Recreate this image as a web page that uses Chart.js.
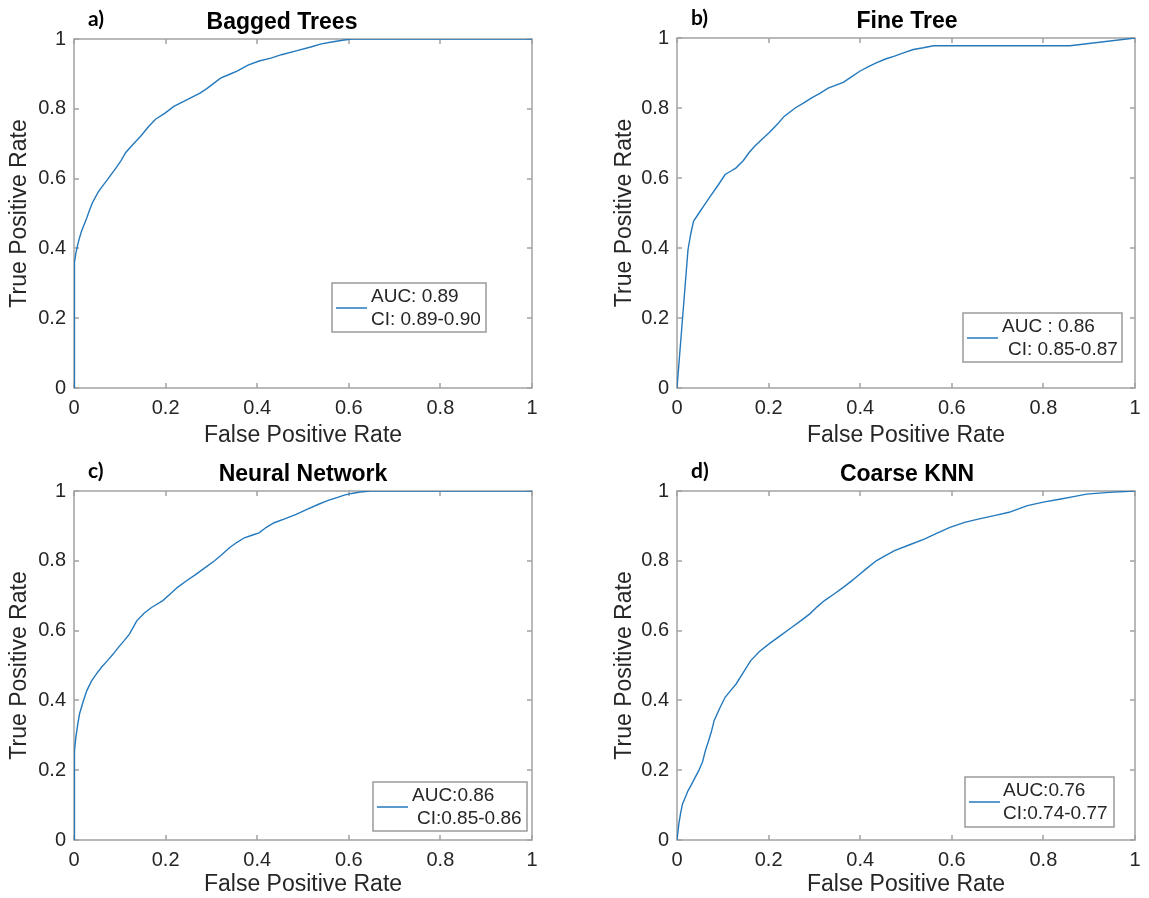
<!DOCTYPE html>
<html>
<head>
<meta charset="utf-8">
<script src="https://cdn.jsdelivr.net/npm/chart.js@4.4.1/dist/chart.umd.min.js"></script>
<style>
  html, body { margin: 0; padding: 0; background: #fff; }
  #wrap { position: relative; width: 1149px; height: 898px; }
  #wrap canvas { position: absolute; }
</style>
</head>
<body>
<div id="wrap">
  <canvas id="panelA"></canvas>
  <canvas id="panelB"></canvas>
  <canvas id="panelC"></canvas>
  <canvas id="panelD"></canvas>
</div>
<script>
// ROC curves, values
const tickValues = [0, 0.2, 0.4, 0.6, 0.8, 1];
const panelLetters = ['a)', 'b)', 'c)', 'd)'];
const panelTitles = ['Bagged Trees', 'Fine Tree', 'Neural Network', 'Coarse KNN'];
const aucLabels = ['AUC: 0.89', 'AUC : 0.86', 'AUC:0.86', 'AUC:0.76'];
const ciLabels = ['CI: 0.89-0.90', 'CI: 0.85-0.87', 'CI:0.85-0.86', 'CI:0.74-0.77'];

const baggedFpr = [0, 0, 0.002, 0.004, 0.008, 0.012, 0.016, 0.022, 0.028, 0.034, 0.04, 0.053, 0.063, 0.073, 0.083, 0.093, 0.103, 0.113, 0.128, 0.146, 0.162, 0.178, 0.198, 0.218, 0.245, 0.275, 0.29, 0.305, 0.32, 0.34, 0.356, 0.38, 0.404, 0.43, 0.453, 0.485, 0.517, 0.54, 0.566, 0.59, 0.606, 0.65, 1];
const baggedTpr = [0, 0.32, 0.36, 0.386, 0.41, 0.43, 0.448, 0.468, 0.488, 0.51, 0.53, 0.562, 0.58, 0.597, 0.615, 0.633, 0.652, 0.675, 0.697, 0.722, 0.748, 0.77, 0.787, 0.807, 0.825, 0.845, 0.858, 0.873, 0.888, 0.899, 0.908, 0.925, 0.937, 0.945, 0.955, 0.966, 0.977, 0.986, 0.992, 0.997, 1, 1, 1];

const fineFpr = [0, 0.024, 0.03, 0.036, 0.048, 0.06, 0.073, 0.09, 0.105, 0.118, 0.129, 0.145, 0.157, 0.169, 0.185, 0.201, 0.218, 0.234, 0.258, 0.275, 0.294, 0.312, 0.33, 0.363, 0.38, 0.399, 0.418, 0.435, 0.455, 0.475, 0.496, 0.516, 0.538, 0.56, 0.858, 1];
const fineTpr = [0, 0.395, 0.44, 0.476, 0.5, 0.523, 0.548, 0.58, 0.61, 0.62, 0.629, 0.65, 0.672, 0.69, 0.71, 0.729, 0.752, 0.776, 0.8, 0.813, 0.829, 0.842, 0.857, 0.873, 0.888, 0.905, 0.918, 0.929, 0.94, 0.948, 0.958, 0.967, 0.972, 0.978, 0.978, 1];

const nnFpr = [0, 0, 0.002, 0.004, 0.008, 0.012, 0.02, 0.028, 0.038, 0.049, 0.06, 0.073, 0.085, 0.097, 0.11, 0.121, 0.137, 0.153, 0.17, 0.194, 0.21, 0.226, 0.245, 0.267, 0.287, 0.307, 0.323, 0.34, 0.356, 0.372, 0.39, 0.404, 0.42, 0.437, 0.46, 0.485, 0.51, 0.534, 0.555, 0.574, 0.59, 0.606, 0.625, 0.647, 0.7, 1];
const nnTpr = [0, 0.2, 0.255, 0.294, 0.33, 0.361, 0.397, 0.428, 0.455, 0.476, 0.495, 0.514, 0.532, 0.552, 0.572, 0.59, 0.628, 0.65, 0.667, 0.686, 0.705, 0.724, 0.742, 0.762, 0.781, 0.8, 0.818, 0.838, 0.853, 0.866, 0.874, 0.88, 0.896, 0.909, 0.92, 0.933, 0.948, 0.962, 0.973, 0.981, 0.988, 0.993, 0.997, 1, 1, 1];

const knnFpr = [0, 0.004, 0.008, 0.012, 0.018, 0.024, 0.032, 0.04, 0.048, 0.056, 0.062, 0.068, 0.075, 0.081, 0.093, 0.105, 0.117, 0.129, 0.145, 0.161, 0.18, 0.201, 0.225, 0.25, 0.27, 0.29, 0.306, 0.322, 0.343, 0.363, 0.38, 0.395, 0.415, 0.435, 0.455, 0.475, 0.508, 0.54, 0.568, 0.596, 0.628, 0.66, 0.695, 0.725, 0.765, 0.8, 0.838, 0.866, 0.894, 0.943, 1];
const knnTpr = [0, 0.046, 0.078, 0.103, 0.122, 0.141, 0.16, 0.18, 0.2, 0.225, 0.256, 0.28, 0.31, 0.342, 0.377, 0.409, 0.428, 0.447, 0.48, 0.514, 0.54, 0.562, 0.585, 0.609, 0.628, 0.648, 0.668, 0.686, 0.705, 0.724, 0.741, 0.757, 0.779, 0.8, 0.815, 0.829, 0.846, 0.862, 0.879, 0.896, 0.91, 0.92, 0.93, 0.939, 0.958, 0.968, 0.977, 0.984, 0.991, 0.996, 1];

const curves = [[baggedFpr, baggedTpr], [fineFpr, fineTpr], [nnFpr, nnTpr], [knnFpr, knnTpr]];

// where each panel sits on the page (pixels)
const panelLayout = [
  { id: 'panelA', x: 0,   y: 0,   w: 574, h: 449, padLeft: 0,  axisW: 74, top: 39, right: 532, bottom: 388, titleShift: -21,
    legend: { rightGap: 46, bottomGap: 56, w: 154, h: 49, indent1: 39, indent2: 39 } },
  { id: 'panelB', x: 574, y: 0,   w: 575, h: 449, padLeft: 31, axisW: 72, top: 38, right: 561, bottom: 388, titleShift: 1,
    legend: { rightGap: 13, bottomGap: 26, w: 159, h: 49, indent1: 39, indent2: 45 } },
  { id: 'panelC', x: 0,   y: 449, w: 574, h: 449, padLeft: 0,  axisW: 74, top: 42, right: 532, bottom: 391, titleShift: 0,
    legend: { rightGap: 5, bottomGap: 9, w: 154, h: 49, indent1: 39, indent2: 44 } },
  { id: 'panelD', x: 574, y: 449, w: 575, h: 449, padLeft: 31, axisW: 72, top: 42, right: 561, bottom: 391, titleShift: 1,
    legend: { rightGap: 21, bottomGap: 13, w: 149, h: 50, indent1: 38, indent2: 38 } }
];

const lineColor = '#2479bd';
const axisColor = '#a3a3a3';
const textColor = '#262626';
const mainFont = "'Liberation Sans', Arial, Helvetica, sans-serif";

// box, inward ticks, titles and the legend, MATLAB-style
const rocDecor = {
  id: 'rocDecor',
  beforeDatasetsDraw(chart) {
    const { ctx, chartArea: a, scales } = chart;
    ctx.save();
    ctx.strokeStyle = axisColor;
    ctx.lineWidth = 1.5;
    ctx.strokeRect(a.left, a.top, a.right - a.left, a.bottom - a.top);
    ctx.beginPath();
    tickValues.forEach(v => {
      const px = Math.round(scales.x.getPixelForValue(v));
      const py = Math.round(scales.y.getPixelForValue(v));
      ctx.moveTo(px, a.bottom); ctx.lineTo(px, a.bottom - 5);
      ctx.moveTo(px, a.top); ctx.lineTo(px, a.top + 5);
      ctx.moveTo(a.left, py); ctx.lineTo(a.left + 5, py);
      ctx.moveTo(a.right, py); ctx.lineTo(a.right - 5, py);
    });
    ctx.stroke();
    ctx.restore();
  },
  afterDraw(chart, args, o) {
    const { ctx, chartArea: a } = chart;
    const L = o.legend;
    ctx.save();
    ctx.fillStyle = '#000';
    ctx.textBaseline = 'middle';
    ctx.font = "bold 21px Lato, 'Open Sans', sans-serif";
    ctx.textAlign = 'left';
    ctx.fillText(o.letter, a.left + 14, a.top - 20);
    ctx.font = 'bold 23px ' + mainFont;
    ctx.textAlign = 'center';
    ctx.fillText(o.title, (a.left + a.right) / 2 + o.titleShift, a.top - 16);

    // legend box
    const bx = a.right - L.rightGap - L.w;
    const by = a.bottom - L.bottomGap - L.h;
    ctx.fillStyle = '#fff';
    ctx.fillRect(bx, by, L.w, L.h);
    ctx.strokeStyle = '#9a9a9a';
    ctx.lineWidth = 1.5;
    ctx.strokeRect(bx, by, L.w, L.h);
    ctx.strokeStyle = lineColor;
    ctx.lineWidth = 1.5;
    ctx.beginPath();
    ctx.moveTo(bx + 4, by + 25);
    ctx.lineTo(bx + 35, by + 25);
    ctx.stroke();
    ctx.fillStyle = textColor;
    ctx.font = '19px ' + mainFont;
    ctx.textAlign = 'left';
    ctx.fillText(o.auc, bx + L.indent1, by + 14);
    ctx.fillText(o.ci, bx + L.indent2, by + 37);
    ctx.restore();
  }
};

function makeAxis(title, fitFn) {
  return {
    type: 'linear',
    min: 0,
    max: 1,
    grid: { display: false, drawTicks: false },
    border: { display: false },
    afterBuildTicks: s => { s.ticks = tickValues.map(v => ({ value: v })); },
    afterFit: fitFn,
    ticks: {
      color: textColor,
      font: { family: mainFont, size: 20 },
      padding: 8,
      maxRotation: 0,
      callback: v => String(v)
    },
    title: {
      display: true,
      text: title,
      color: textColor,
      font: { family: mainFont, size: 23, lineHeight: 1.2 },
      padding: { top: 6, bottom: 0 }
    }
  };
}

function createRocChart(i) {
  const p = panelLayout[i];
  const canvas = document.getElementById(p.id);
  canvas.width = p.w;
  canvas.height = p.h;
  canvas.style.left = p.x + 'px';
  canvas.style.top = p.y + 'px';
  const [fpr, tpr] = curves[i];

  const config = {
    type: 'line',
    data: {
      datasets: [{
        label: aucLabels[i],
        data: fpr.map((x, k) => ({ x: x, y: tpr[k] })),
        borderColor: lineColor,
        borderWidth: 1.4,
        pointRadius: 0,
        tension: 0,
        fill: false
      }]
    },
    options: {
      responsive: false,
      animation: false,
      devicePixelRatio: 1,
      layout: { padding: { left: p.padLeft, top: p.top, right: p.w - p.right, bottom: 0 } },
      plugins: {
        legend: { display: false },
        title: { display: false },
        tooltip: { enabled: false },
        rocDecor: {
          letter: panelLetters[i],
          title: panelTitles[i],
          auc: aucLabels[i],
          ci: ciLabels[i],
          titleShift: p.titleShift,
          legend: p.legend
        }
      },
      scales: {
        x: makeAxis('False Positive Rate', s => { s.height = p.h - p.bottom; }),
        y: makeAxis('True Positive Rate', s => { s.width = p.axisW; })
      }
    },
    plugins: [rocDecor]
  };
  return new Chart(canvas.getContext('2d'), config);
}

panelLayout.forEach((p, i) => createRocChart(i));
</script>
</body>
</html>
